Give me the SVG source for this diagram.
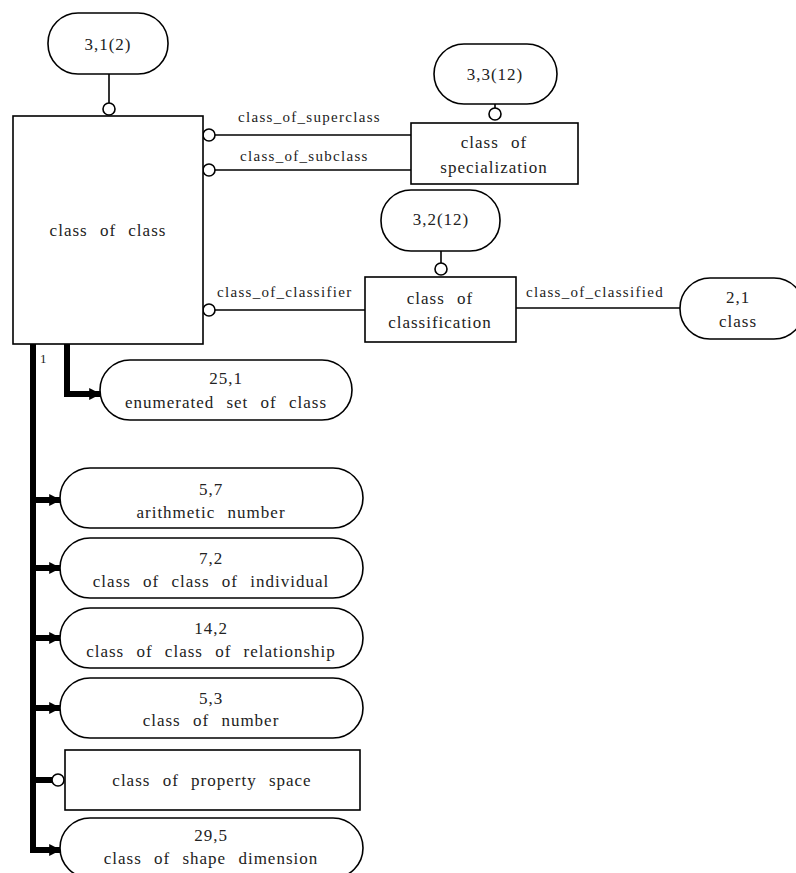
<svg xmlns="http://www.w3.org/2000/svg" width="796" height="873" viewBox="0 0 796 873" font-family="'Liberation Serif', 'DejaVu Serif', 'Times New Roman', serif">
<style>
.box{fill:#fff;stroke:#000;stroke-width:1.6}
.st{fill:#fff;stroke:#000;stroke-width:1.6}
.t{font-family:'Liberation Serif','DejaVu Serif','Times New Roman',serif;font-size:17px;letter-spacing:1px;word-spacing:7px;fill:#222;text-anchor:middle}
.lbl{font-family:'Liberation Serif','DejaVu Serif','Times New Roman',serif;font-size:15px;letter-spacing:1.3px;fill:#222}
.ln{fill:none;stroke:#000;stroke-width:1.6}
.thick{fill:none;stroke:#000;stroke-width:6;stroke-linejoin:miter}
.circ{fill:#fff;stroke:#000;stroke-width:1.6}
</style>
<defs>
<marker id="ah" viewBox="0 0 10 10" refX="9" refY="5" markerWidth="2" markerHeight="2.4" orient="auto" markerUnits="strokeWidth">
<path d="M0,0 L10,5 L0,10 z" fill="#000"/>
</marker>
</defs>

<g id="connectors">
<line class="ln" x1="109" y1="74" x2="109" y2="103"/>
<circle class="circ" cx="109" cy="109" r="6"/>
<line class="ln" x1="215" y1="135" x2="411" y2="135"/>
<circle class="circ" cx="209" cy="135" r="6"/>
<line class="ln" x1="215" y1="170" x2="411" y2="170"/>
<circle class="circ" cx="209" cy="170" r="6"/>
<line class="ln" x1="495" y1="104" x2="495" y2="108"/>
<circle class="circ" cx="495" cy="114" r="6"/>
<line class="ln" x1="441" y1="251" x2="441" y2="263"/>
<circle class="circ" cx="441" cy="269" r="6"/>
<line class="ln" x1="215" y1="310" x2="365" y2="310"/>
<circle class="circ" cx="209" cy="310" r="6"/>
<line class="ln" x1="516" y1="308" x2="680" y2="308"/>
<path class="thick" d="M67,344 V394 H100" marker-end="url(#ah)"/>
<path class="thick" d="M33,344 V850 H60" marker-end="url(#ah)"/>
<line class="thick" x1="33" y1="500" x2="60" y2="500" marker-end="url(#ah)"/>
<line class="thick" x1="33" y1="568" x2="60" y2="568" marker-end="url(#ah)"/>
<line class="thick" x1="33" y1="638" x2="60" y2="638" marker-end="url(#ah)"/>
<line class="thick" x1="33" y1="708" x2="60" y2="708" marker-end="url(#ah)"/>
<line class="thick" x1="33" y1="780" x2="52" y2="780"/>
<circle class="circ" cx="58" cy="780" r="6"/>
<text class="lbl" x="238" y="122">class_of_superclass</text>
<text class="lbl" x="240" y="161">class_of_subclass</text>
<text class="lbl" x="217" y="297">class_of_classifier</text>
<text class="lbl" x="526" y="297">class_of_classified</text>
<text class="lbl" x="40" y="363" style="font-size:13px">1</text>
</g>

<g id="n-3-1-2">
<rect class="st" x="48" y="13" width="120" height="61" rx="30"/>
<text class="t" x="108" y="50">3,1(2)</text>
</g>

<g id="n-class-of-class">
<rect class="box" x="13" y="116" width="190" height="228"/>
<text class="t" x="108" y="236">class of class</text>
</g>

<g id="n-3-3-12">
<rect class="st" x="434" y="44" width="123" height="60" rx="30"/>
<text class="t" x="495" y="80">3,3(12)</text>
</g>

<g id="n-class-of-specialization">
<rect class="box" x="411" y="123" width="167" height="61"/>
<text class="t" x="494" y="148">class of</text>
<text class="t" x="494" y="173">specialization</text>
</g>

<g id="n-3-2-12">
<rect class="st" x="381" y="190" width="119" height="61" rx="30"/>
<text class="t" x="441" y="225">3,2(12)</text>
</g>

<g id="n-class-of-classification">
<rect class="box" x="365" y="277" width="151" height="65"/>
<text class="t" x="440" y="304">class of</text>
<text class="t" x="440" y="328">classification</text>
</g>

<g id="n-2-1-class">
<rect class="st" x="680" y="278" width="124" height="61" rx="30"/>
<text class="t" x="738" y="303">2,1</text>
<text class="t" x="738" y="327">class</text>
</g>

<g id="n-25-1">
<rect class="st" x="100" y="360" width="252" height="60" rx="30"/>
<text class="t" x="226" y="384">25,1</text>
<text class="t" x="226" y="408">enumerated set of class</text>
</g>

<g id="n-5-7">
<rect class="st" x="60" y="468" width="303" height="60" rx="30"/>
<text class="t" x="211" y="495">5,7</text>
<text class="t" x="211" y="518">arithmetic number</text>
</g>

<g id="n-7-2">
<rect class="st" x="60" y="538" width="303" height="60" rx="30"/>
<text class="t" x="211" y="564">7,2</text>
<text class="t" x="211" y="587">class of class of individual</text>
</g>

<g id="n-14-2">
<rect class="st" x="60" y="608" width="303" height="60" rx="30"/>
<text class="t" x="211" y="634">14,2</text>
<text class="t" x="211" y="657">class of class of relationship</text>
</g>

<g id="n-5-3">
<rect class="st" x="60" y="678" width="303" height="60" rx="30"/>
<text class="t" x="211" y="704">5,3</text>
<text class="t" x="211" y="726">class of number</text>
</g>

<g id="n-class-of-property-space">
<rect class="box" x="65" y="750" width="295" height="60"/>
<text class="t" x="212" y="786">class of property space</text>
</g>

<g id="n-29-5">
<rect class="st" x="60" y="818" width="303" height="60" rx="30"/>
<text class="t" x="211" y="841">29,5</text>
<text class="t" x="211" y="864">class of shape dimension</text>
</g>
</svg>
